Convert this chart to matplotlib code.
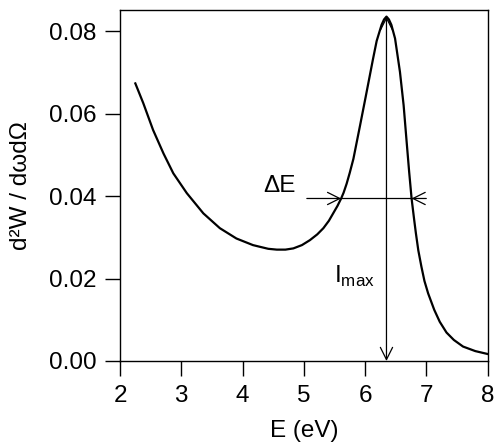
import matplotlib
matplotlib.use("Agg")
import matplotlib.pyplot as plt

plt.rcParams["font.family"] = ["Liberation Sans", "DejaVu Sans"]
plt.rcParams["mathtext.fontset"] = "custom"
plt.rcParams["mathtext.rm"] = "Liberation Sans"

# spectrum
energy = [2.25, 2.38, 2.54, 2.71, 2.87, 3.09, 3.36, 3.63, 3.90, 4.17, 4.28,
          4.42, 4.56, 4.70, 4.83, 4.97, 5.10, 5.22, 5.32, 5.41, 5.48, 5.55,
          5.61, 5.65, 5.70, 5.75, 5.81, 5.92, 6.01, 6.07, 6.13, 6.19, 6.27,
          6.31, 6.35, 6.39, 6.43, 6.49, 6.57, 6.63, 6.68, 6.72, 6.76, 6.80,
          6.83, 6.87, 6.92, 6.97, 7.03, 7.13, 7.22, 7.33, 7.45, 7.60, 7.80,
          8.00]
intensity = [0.0673, 0.0625, 0.0560, 0.0503, 0.0455, 0.0407, 0.0358, 0.0322,
             0.0297, 0.0281, 0.0277, 0.0272, 0.0270, 0.0270, 0.0273, 0.0281,
             0.0293, 0.0307, 0.0322, 0.0340, 0.0358, 0.0376, 0.0394, 0.0408,
             0.0430, 0.0456, 0.0490, 0.0572, 0.0640, 0.0686, 0.0732, 0.0776,
             0.0815, 0.0828, 0.0835, 0.0828, 0.0815, 0.0782, 0.0701, 0.0620,
             0.0530, 0.0459, 0.0394, 0.0345, 0.0310, 0.0268, 0.0229, 0.0194,
             0.0164, 0.0124, 0.0095, 0.0069, 0.0051, 0.0035, 0.0024, 0.0017]

peak_e = 6.35
peak_i = 0.0835
half_i = 0.0394
fwhm_left = 5.61
fwhm_right = 6.76
de_start = 5.05
de_end = 7.0

x_ticks = [2, 3, 4, 5, 6, 7, 8]
y_ticks = [0.00, 0.02, 0.04, 0.06, 0.08]

fig = plt.figure(figsize=(4.98, 4.46), dpi=100)
ax = fig.add_axes([0.241, 0.1906, 0.738, 0.787])

ax.plot(energy, intensity, color="black", lw=1.6, solid_joinstyle="round")

# I_max arrow
ax.annotate("", xy=(peak_e, 0.0), xytext=(peak_e, peak_i),
            arrowprops=dict(arrowstyle="<->", color="black", lw=0.9,
                            shrinkA=0, shrinkB=0, mutation_scale=22))
# Delta E arrows
ax.plot([fwhm_left, fwhm_right], [half_i, half_i], color="black", lw=0.9)
ax.annotate("", xy=(fwhm_left, half_i), xytext=(de_start, half_i),
            arrowprops=dict(arrowstyle="->", color="black", lw=0.9,
                            shrinkA=0, shrinkB=0, mutation_scale=22))
ax.annotate("", xy=(fwhm_right, half_i), xytext=(de_end, half_i),
            arrowprops=dict(arrowstyle="->", color="black", lw=0.9,
                            shrinkA=0, shrinkB=0, mutation_scale=22))

ax.text(4.6, 0.0425, "ΔE", fontsize=17.5, ha="center", va="center")
ax.text(5.5, 0.0205, r"I$_\mathregular{max}$", fontsize=17.5, ha="left", va="center")

ax.set_xlim(2, 8)
ax.set_ylim(0, 0.0851)
ax.set_xticks(x_ticks)
ax.set_yticks(y_ticks)
ax.set_yticklabels([f"{v:.2f}" for v in y_ticks])
ax.tick_params(direction="out", length=11, width=1, labelsize=17.5, pad=6)
for s in ax.spines.values():
    s.set_linewidth(1)

ax.set_xlabel("E (eV)", fontsize=17.5, labelpad=10)
ax.set_ylabel("d²W / dωdΩ", fontsize=17.5, labelpad=12)

fig.savefig("out.png", dpi=100)
